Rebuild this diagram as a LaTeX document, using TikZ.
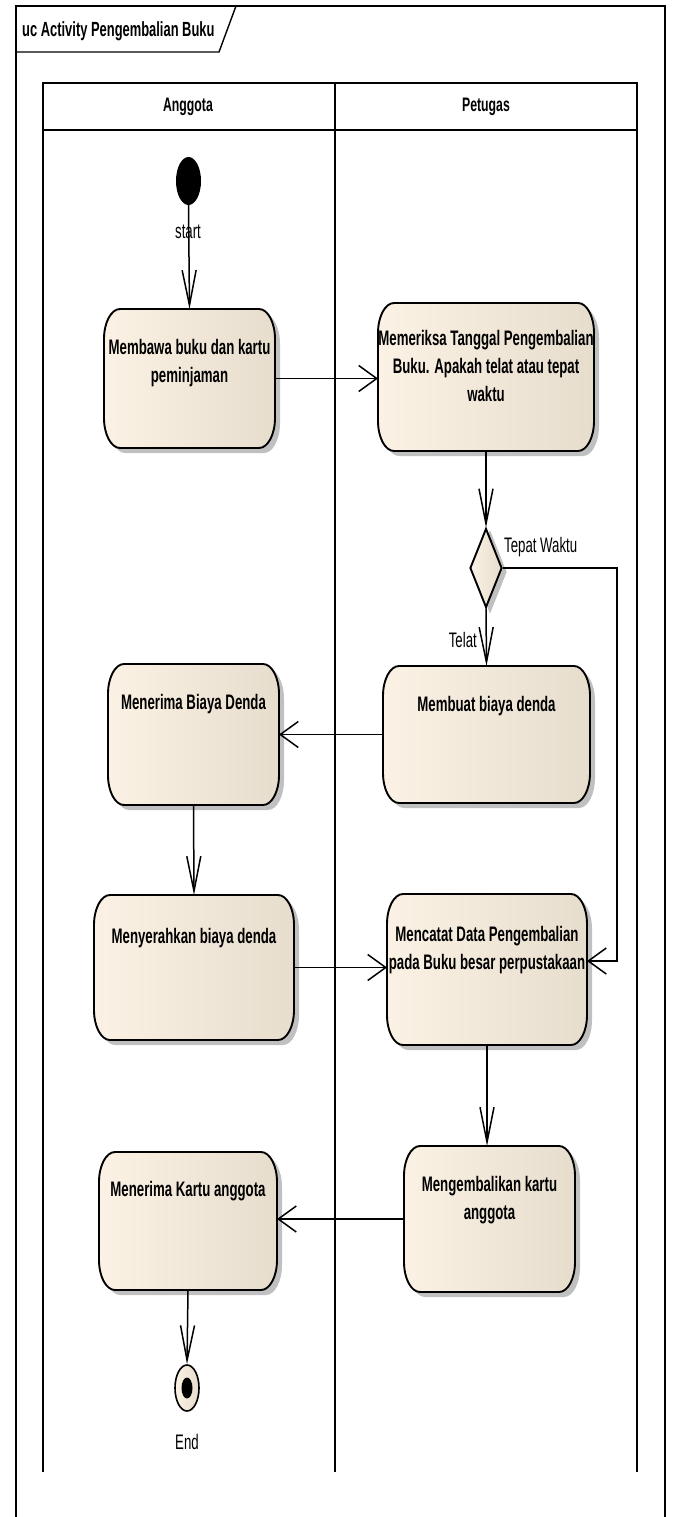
\documentclass[tikz,border=0pt]{standalone}
\usepackage{fontspec}
\newfontfamily\dfont{Liberation Sans}[FakeStretch=0.63]
\usetikzlibrary{arrows.meta,shapes.geometric,calc,shadows}

\definecolor{boxL}{RGB}{251,242,229}
\definecolor{boxR}{RGB}{231,221,205}
\definecolor{shad}{RGB}{192,192,192}

\tikzset{
  frameline/.style={line width=1.4pt},
  laneline/.style={line width=1.6pt},
  boxline/.style={line width=1.9pt},
  flow/.style={line width=1.5pt},
  harrow/.style={flow, -{Straight Barb[length=18pt,width=26pt]}},
  varrow/.style={flow, -{Straight Barb[length=35pt,width=14pt]}},
  boxanchor/.style={rectangle, draw=none, inner sep=0pt, outer sep=0pt},
  acttext/.style={anchor=north, align=center, inner sep=0pt,
    font=\dfont\bfseries\fontsize{21}{28}\selectfont},
  plain/.style={inner sep=0pt, font=\dfont\fontsize{21}{24}\selectfont},
  header/.style={inner sep=0pt, font=\dfont\bfseries\fontsize{19.5}{23}\selectfont},
}

% action box with elliptical corners, drop shadow and gradient fill
\newcommand\actbox[1]{%
  \fill[shad] let \p1=($(#1.north west)+(5,5)$), \p2=($(#1.south east)+(5,5)$) in
    (\x1+16pt,\y1) -- (\x2-16pt,\y1)
    .. controls (\x2-7.16pt,\y1) and (\x2,\y1-13.43pt) .. (\x2,\y1-30pt)
    -- (\x2,\y2+30pt)
    .. controls (\x2,\y2+13.43pt) and (\x2-7.16pt,\y2) .. (\x2-16pt,\y2)
    -- (\x1+16pt,\y2)
    .. controls (\x1+7.16pt,\y2) and (\x1,\y2+13.43pt) .. (\x1,\y2+30pt)
    -- (\x1,\y1-30pt)
    .. controls (\x1,\y1-13.43pt) and (\x1+7.16pt,\y1) .. (\x1+16pt,\y1) -- cycle;
  \draw[boxline, left color=boxL, right color=boxR]
    let \p1=(#1.north west), \p2=(#1.south east) in
    (\x1+16pt,\y1) -- (\x2-16pt,\y1)
    .. controls (\x2-7.16pt,\y1) and (\x2,\y1-13.43pt) .. (\x2,\y1-30pt)
    -- (\x2,\y2+30pt)
    .. controls (\x2,\y2+13.43pt) and (\x2-7.16pt,\y2) .. (\x2-16pt,\y2)
    -- (\x1+16pt,\y2)
    .. controls (\x1+7.16pt,\y2) and (\x1,\y2+13.43pt) .. (\x1,\y2+30pt)
    -- (\x1,\y1-30pt)
    .. controls (\x1,\y1-13.43pt) and (\x1+7.16pt,\y1) .. (\x1+16pt,\y1) -- cycle;
}

\begin{document}
\begin{tikzpicture}[x=1pt,y=-1pt]
\fill[white] (0,0) rectangle (672,1517);
\useasboundingbox (0,0) rectangle (672,1517);

% outer frame and title tab
\draw[frameline] (16,1517) -- (16,6) -- (665,6) -- (665,1517);
\draw[frameline] (16,52) -- (219,52) -- (236,6);
\node[anchor=west, inner sep=0pt, font=\dfont\bfseries\fontsize{20.5}{24}\selectfont]
  (title) at (22,31) {uc Activity Pengembalian Buku};

% swimlanes
\draw[laneline] (43,1472) -- (43,83) -- (637,83) -- (637,1472);
\draw[laneline] (43,130) -- (637,130);
\draw[laneline] (335,83) -- (335,1472);
\node[header] (hA) at (188,107) {Anggota};
\node[header] (hP) at (486,107) {Petugas};

% initial node
\node[ellipse, fill=black, minimum width=25pt, minimum height=48pt, inner sep=0pt]
  (start) at (188.5,181) {};
\node[plain] (startlbl) at (188,232) {start};

% action nodes
\node[boxanchor, minimum width=171pt, minimum height=139pt] (a1) at (189.5,378.5) {};
\node[boxanchor, minimum width=216pt, minimum height=148pt] (a2) at (486,377) {};
\node[boxanchor, minimum width=207pt, minimum height=137pt] (a3) at (486.5,734.5) {};
\node[boxanchor, minimum width=171pt, minimum height=141pt] (a4) at (193.5,734.5) {};
\node[boxanchor, minimum width=200pt, minimum height=145pt] (a5) at (194,967.5) {};
\node[boxanchor, minimum width=200pt, minimum height=151pt] (a6) at (487,969.5) {};
\node[boxanchor, minimum width=171pt, minimum height=146pt] (a7) at (489.5,1219) {};
\node[boxanchor, minimum width=178pt, minimum height=138pt] (a8) at (188,1221) {};
\actbox{a1}\actbox{a2}\actbox{a3}\actbox{a4}
\actbox{a5}\actbox{a6}\actbox{a7}\actbox{a8}

\node[acttext] (a1t) at ($(a1.north)+(0,30)$) {Membawa buku dan kartu\\peminjaman};
\node[acttext] (a2t) at ($(a2.north)+(0,27)$) {Memeriksa Tanggal Pengembalian\\Buku. Apakah telat atau tepat\\waktu};
\node[acttext] (a3t) at ($(a3.north)+(0,30)$) {Membuat biaya denda};
\node[acttext] (a4t) at ($(a4.north)+(0,30)$) {Menerima Biaya Denda};
\node[acttext] (a5t) at ($(a5.north)+(0,33)$) {Menyerahkan biaya denda};
\node[acttext] (a6t) at ($(a6.north)+(0,32)$) {Mencatat Data Pengembalian\\pada Buku besar perpustakaan};
\node[acttext] (a7t) at ($(a7.north)+(0,30)$) {Mengembalikan kartu\\anggota};
\node[acttext] (a8t) at ($(a8.north)+(0,29)$) {Menerima Kartu anggota};

% decision node
\node[diamond, draw, boxline, left color=boxL, right color=boxR, aspect=0.4,
  minimum width=32pt, minimum height=79pt, inner sep=0pt,
  copy shadow={shadow xshift=4pt, shadow yshift=-4pt, fill=shad, draw=shad}]
  (d) at (486,568) {};
\node[plain, anchor=west] (twlbl) at (504,547) {Tepat Waktu};
\node[plain, anchor=east] (tllbl) at (477,640) {Telat};

% final node
\node[ellipse, draw, line width=1.6pt, left color=boxL, right color=boxR,
  minimum width=24pt, minimum height=46pt, inner sep=0pt] (end) at (187,1388) {};
\node[ellipse, fill=black, minimum width=11pt, minimum height=21pt, inner sep=0pt]
  (enddot) at (end.center) {};
\node[plain] (endlbl) at (187,1442) {End};

% control flows
\coordinate (twturn) at (617,961);
\draw[varrow] (start.south) -- (a1.north);
\draw[harrow] (a1.east) -- (a1.east -| a2.west);
\draw[varrow] (a2.south) -- (d.north);
\draw[varrow] (d.south) -- (a3.north);
\draw[harrow] (d.east) -| (twturn) -- (twturn -| a6.east);
\draw[harrow] (a3.west) -- (a3.west -| a4.east);
\draw[varrow] (a4.south) -- (a5.north);
\draw[harrow] (a5.east) -- (a5.east -| a6.west);
\draw[varrow] (a6.south) -- (a6.south |- a7.north);
\draw[harrow] (a7.west) -- (a7.west -| a8.east);
\draw[varrow] (a8.south) -- (end.north);
\end{tikzpicture}
\end{document}
